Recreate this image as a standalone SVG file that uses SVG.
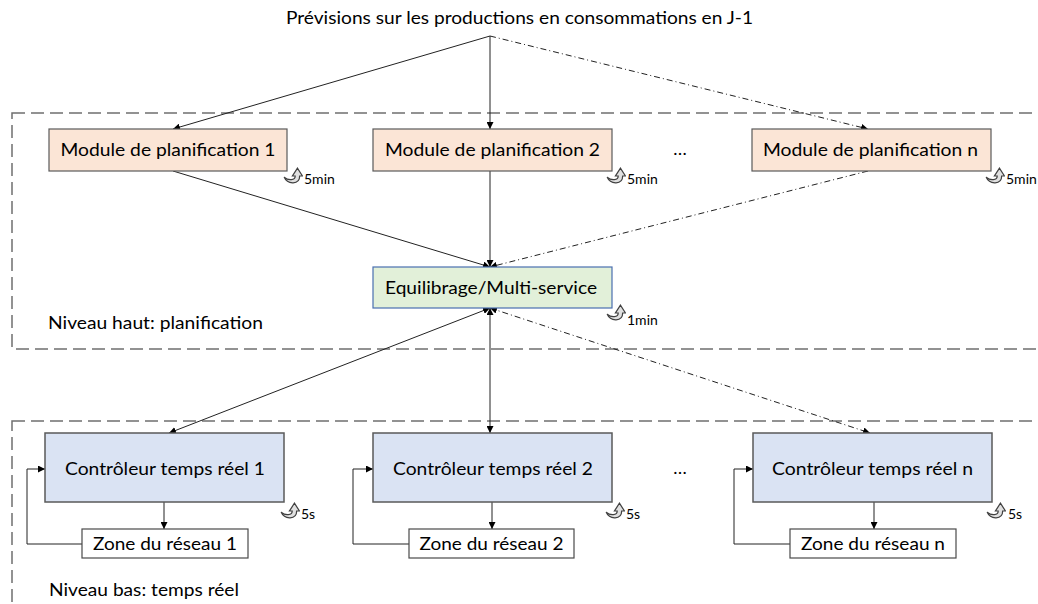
<svg xmlns="http://www.w3.org/2000/svg" width="1038" height="604" viewBox="0 0 1038 604">
<style>
text{font-family:Lato,"Open Sans","Liberation Sans",sans-serif;fill:#000}
.t{font-size:18px;text-anchor:middle}
.lbl{font-size:17px}
.sm{font-size:14px}
.zone{fill:none;stroke:#6f6f6f;stroke-width:1.5;stroke-dasharray:13 6}
.mod{fill:#fbe5d6;stroke:#5a5a5a;stroke-width:1.2}
.eq{fill:#e2f0d9;stroke:#4a6fb0;stroke-width:1.2}
.ctl{fill:#dae3f3;stroke:#5a5a5a;stroke-width:1.5}
.zn{fill:#fff;stroke:#4a4a4a;stroke-width:1.2}
.c{fill:none;stroke:#222;stroke-width:1}
.dd{stroke-dasharray:6 3 1 3}
.ic{fill:#e0e0e0;stroke:#404040;stroke-width:1.1}
</style>
<defs>
<marker id="ah" viewBox="0 0 10 10" refX="10" refY="5" markerWidth="7" markerHeight="7" orient="auto-start-reverse" markerUnits="userSpaceOnUse">
<path d="M0,0 L10,5 L0,10 Z" fill="#000"/>
</marker>
<symbol id="cyc" viewBox="0 0 18 18" width="20" height="20">
<path class="ic" d="M1,10 C4,17 15,17 15,9 L17.5,9 L13,2 L8.5,9 L11,9 C11,13 5,13.5 1,10 Z"/>
</symbol>
</defs>
<g id="zones">
<rect class="zone" x="12" y="113" width="1040" height="236"/>
<rect class="zone" x="12" y="421" width="1040" height="200"/>
<text class="lbl" x="48" y="329" textLength="215" lengthAdjust="spacingAndGlyphs">Niveau haut: planification</text>
<text class="lbl" x="49" y="596" textLength="190" lengthAdjust="spacingAndGlyphs">Niveau bas: temps réel</text>
</g>
<g id="source">
<text class="t" x="519.5" y="24" style="font-size:17px" textLength="467" lengthAdjust="spacingAndGlyphs">Prévisions sur les productions en consommations en J-1</text>
</g>
<g id="connectors">
<line class="c" x1="490" y1="36" x2="173" y2="129" marker-end="url(#ah)"/>
<line class="c" x1="490" y1="36" x2="490" y2="129" marker-end="url(#ah)"/>
<line class="c dd" x1="490" y1="36" x2="868" y2="129" marker-end="url(#ah)"/>
<line class="c" x1="173" y1="171" x2="490" y2="267" marker-end="url(#ah)"/>
<line class="c" x1="490" y1="171" x2="490" y2="267" marker-end="url(#ah)"/>
<line class="c dd" x1="868" y1="171" x2="490" y2="267" marker-end="url(#ah)"/>
<line class="c" x1="490" y1="308" x2="169" y2="433" marker-start="url(#ah)" marker-end="url(#ah)"/>
<line class="c" x1="490" y1="308" x2="490" y2="433" marker-start="url(#ah)" marker-end="url(#ah)"/>
<line class="c dd" x1="490" y1="308" x2="870" y2="433" marker-start="url(#ah)" marker-end="url(#ah)"/>
<line class="c" x1="164" y1="502" x2="164" y2="529" marker-end="url(#ah)"/>
<line class="c" x1="492" y1="502" x2="492" y2="529" marker-end="url(#ah)"/>
<line class="c" x1="874" y1="502" x2="874" y2="529" marker-end="url(#ah)"/>
<polyline class="c" points="82,544 27,544 27,469 45,469" marker-end="url(#ah)"/>
<polyline class="c" points="409,544 353,544 353,469 373,469" marker-end="url(#ah)"/>
<polyline class="c" points="790,544 734,544 734,469 753,469" marker-end="url(#ah)"/>
</g>
<g id="module1">
<rect class="mod" x="49" y="129" width="238" height="42"/>
<text class="t" x="168" y="156" textLength="215" lengthAdjust="spacingAndGlyphs">Module de planification 1</text>
<use href="#cyc" x="283" y="166"/>
<text class="sm" x="304" y="184">5min</text>
</g>
<g id="module2">
<rect class="mod" x="373" y="129" width="239" height="42"/>
<text class="t" x="492.5" y="156" textLength="215" lengthAdjust="spacingAndGlyphs">Module de planification 2</text>
<use href="#cyc" x="606" y="166"/>
<text class="sm" x="627" y="184">5min</text>
</g>
<g id="dots-top"><text class="t" x="680" y="155">…</text></g>
<g id="modulen">
<rect class="mod" x="752" y="129" width="239" height="42"/>
<text class="t" x="870.5" y="156" textLength="215" lengthAdjust="spacingAndGlyphs">Module de planification n</text>
<use href="#cyc" x="985" y="166"/>
<text class="sm" x="1006" y="184">5min</text>
</g>
<g id="equilibrage">
<rect class="eq" x="373" y="267" width="239" height="41"/>
<text class="t" x="491" y="294" textLength="212" lengthAdjust="spacingAndGlyphs">Equilibrage/Multi-service</text>
<use href="#cyc" x="606" y="303"/>
<text class="sm" x="627" y="325">1min</text>
</g>
<g id="controleur1">
<rect class="ctl" x="45" y="433" width="239" height="69"/>
<text class="t" x="165" y="475" textLength="200" lengthAdjust="spacingAndGlyphs">Contrôleur temps réel 1</text>
<use href="#cyc" x="280" y="501"/>
<text class="sm" x="301" y="519">5s</text>
</g>
<g id="zone1">
<rect class="zn" x="82" y="529" width="166" height="29"/>
<text class="t" x="165" y="550" textLength="144" lengthAdjust="spacingAndGlyphs">Zone du réseau 1</text>
</g>
<g id="controleur2">
<rect class="ctl" x="373" y="433" width="239" height="69"/>
<text class="t" x="493" y="475" textLength="200" lengthAdjust="spacingAndGlyphs">Contrôleur temps réel 2</text>
<use href="#cyc" x="605" y="501"/>
<text class="sm" x="626" y="519">5s</text>
</g>
<g id="zone2">
<rect class="zn" x="409" y="529" width="165" height="29"/>
<text class="t" x="491.5" y="550" textLength="144" lengthAdjust="spacingAndGlyphs">Zone du réseau 2</text>
</g>
<g id="dots-bottom"><text class="t" x="680" y="474">…</text></g>
<g id="controleurn">
<rect class="ctl" x="753" y="433" width="239" height="69"/>
<text class="t" x="872.5" y="475" textLength="201" lengthAdjust="spacingAndGlyphs">Contrôleur temps réel n</text>
<use href="#cyc" x="986" y="501"/>
<text class="sm" x="1008" y="519">5s</text>
</g>
<g id="zonen">
<rect class="zn" x="790" y="529" width="166" height="29"/>
<text class="t" x="873" y="550" textLength="144" lengthAdjust="spacingAndGlyphs">Zone du réseau n</text>
</g>
</svg>
